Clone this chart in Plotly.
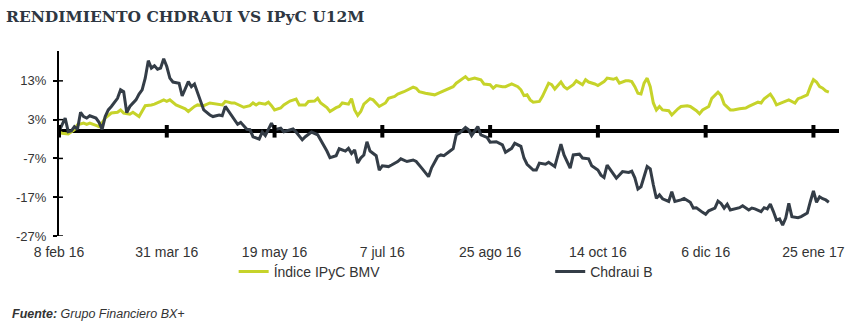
import plotly.graph_objects as go

title_text = "RENDIMIENTO CHDRAUI VS IPyC U12M"
source_text = "<b>Fuente:</b> Grupo Financiero BX+"

x_tick_days = [0, 35, 70, 105, 140, 175, 210, 245]
x_tick_labels = ["8 feb 16", "31 mar 16", "19 may 16", "7 jul 16",
                 "25 ago 16", "14 oct 16", "6 dic 16", "25 ene 17"]
y_tick_vals = [-27, -17, -7, 3, 13]
y_tick_labels = ["-27%", "-17%", "-7%", "3%", "13%"]

ipc_name = "Índice IPyC BMV"
ipc_day = [0, 1, 3, 5, 6, 8, 9, 10, 12, 13, 14, 15, 17, 19, 20, 21, 23, 24, 26, 27,
           28, 30, 31, 33, 34, 35, 36, 38, 40, 41, 42, 44, 45, 47, 49, 51, 53, 54, 56, 57,
           59, 60, 62, 63, 64, 65, 67, 68, 69, 70, 72, 73, 75, 77, 78, 80, 81, 83, 84, 85,
           87, 88, 90, 91, 92, 94, 95, 96, 97, 98, 99, 101, 102, 104, 106, 107, 109, 110, 112, 114,
           115, 116, 117, 119, 121, 122, 124, 126, 128, 129, 131, 132, 133, 135, 136, 137, 138, 140, 141, 142,
           144, 145, 147, 149, 150, 151, 152, 153, 154, 156, 157, 159, 160, 161, 163, 164, 165, 167, 168, 170,
           171, 172, 174, 175, 177, 178, 180, 181, 182, 184, 185, 186, 187, 188, 189, 190, 191, 192, 193, 194,
           195, 196, 198, 199, 201, 202, 204, 205, 207, 208, 209, 211, 212, 214, 215, 216, 218, 219, 221, 223,
           224, 226, 227, 228, 229, 231, 232, 233, 235, 236, 237, 239, 240, 241, 243, 244, 245, 246, 247, 248,
           249, 250]
ipc_ret = [-0.2, -0.5, -0.7, 0.4, 1.7, 2.1, 1.8, 2.1, 1.5, 1.2, 2.2, 3.4, 4.7, 4.9, 5.5, 4.7, 4.4, 4.9, 3.8, 5.3,
           6.6, 6.8, 7.0, 7.7, 8.1, 7.7, 8.1, 6.8, 6.2, 5.8, 5.1, 6.4, 6.8, 6.6, 7.3, 7.1, 6.8, 7.7, 7.3, 7.3,
           6.6, 6.2, 6.6, 7.3, 6.8, 7.3, 7.0, 7.5, 6.6, 5.5, 6.0, 6.8, 7.8, 8.3, 6.8, 6.8, 7.7, 7.8, 8.5, 7.3,
           6.1, 5.1, 6.1, 6.4, 7.3, 7.0, 8.4, 5.5, 4.1, 5.1, 7.0, 8.4, 8.1, 6.4, 7.3, 8.5, 9.0, 9.6, 10.2, 11.1,
           11.4, 11.1, 10.2, 9.8, 9.6, 9.4, 10.1, 10.7, 11.5, 12.4, 13.7, 14.1, 13.3, 13.7, 13.5, 13.3, 12.2, 12.0, 11.1, 11.8,
           11.5, 11.5, 12.2, 11.5, 10.7, 9.2, 9.4, 8.1, 7.5, 7.7, 9.0, 12.4, 12.0, 10.9, 12.7, 11.5, 10.9, 12.0, 13.0, 12.0,
           13.3, 12.7, 12.2, 11.8, 12.8, 13.7, 13.4, 13.7, 12.4, 13.0, 13.0, 12.8, 11.5, 9.8, 9.6, 12.4, 13.7, 11.5, 7.3, 5.5,
           6.4, 5.5, 5.3, 4.2, 5.8, 6.4, 6.6, 6.4, 5.3, 4.5, 5.5, 6.4, 8.5, 10.1, 9.2, 7.0, 5.5, 5.5, 5.8, 6.0,
           6.4, 7.0, 7.5, 7.3, 8.4, 9.6, 8.4, 6.8, 7.5, 7.8, 8.1, 7.3, 8.4, 8.7, 9.4, 11.5, 13.3, 12.7, 11.5, 11.1,
           10.4, 10.1]

chd_name = "Chdraui B"
chd_day = [0, 2, 3, 4, 5, 6, 7, 8, 9, 10, 12, 13, 14, 15, 16, 17, 19, 20, 21, 22,
           23, 25, 26, 27, 28, 29, 30, 31, 32, 33, 34, 35, 36, 37, 39, 40, 42, 43, 44, 45,
           47, 49, 50, 52, 53, 54, 56, 57, 58, 59, 61, 62, 63, 65, 66, 67, 69, 70, 72, 73,
           74, 76, 77, 79, 80, 82, 84, 85, 87, 88, 90, 91, 93, 94, 95, 96, 97, 98, 99, 100,
           101, 103, 104, 105, 107, 108, 110, 111, 113, 115, 116, 118, 120, 121, 123, 124, 125, 127, 128, 129,
           130, 132, 133, 134, 136, 137, 139, 140, 142, 144, 145, 147, 148, 150, 151, 152, 154, 155, 156, 158,
           159, 161, 163, 164, 166, 167, 169, 170, 172, 173, 175, 176, 177, 178, 180, 181, 183, 185, 186, 187,
           188, 189, 191, 192, 193, 194, 195, 196, 198, 199, 200, 202, 203, 205, 206, 207, 209, 210, 211, 213,
           214, 215, 216, 217, 218, 220, 221, 222, 224, 225, 226, 228, 229, 230, 231, 232, 233, 234, 235, 236,
           237, 238, 240, 241, 243, 244, 245, 246, 247, 248, 249, 250]
chd_ret = [0.0, 3.4, -0.1, 0.1, 1.2, 0.5, 4.9, 3.8, 3.4, 4.0, 3.4, 2.3, 0.5, 3.8, 5.5, 6.4, 8.5, 10.7, 10.2, 4.8,
           6.4, 8.1, 9.6, 10.7, 13.7, 18.2, 16.3, 16.9, 16.0, 16.3, 18.7, 16.7, 13.7, 12.7, 12.4, 9.1, 12.8, 11.5, 12.2, 9.8,
           5.5, 4.2, 3.8, 4.2, 4.0, 6.4, 4.2, 2.9, 1.8, 2.3, 0.5, 0.4, -1.4, -2.0, -0.2, -1.1, 2.1, 0.4, 0.8, -0.1,
           0.1, 0.6, -0.2, -2.2, -1.4, -0.2, -0.9, -2.2, -5.1, -6.8, -6.3, -4.5, -5.1, -4.4, -5.7, -4.8, -8.2, -6.9, -6.1, -2.7,
           -5.1, -6.3, -10.0, -8.9, -9.1, -8.7, -7.8, -7.1, -7.8, -7.4, -7.8, -9.7, -11.7, -9.4, -6.5, -6.1, -6.3, -5.1, -4.5, -0.9,
           -0.5, 1.0, 0.4, -1.1, 1.2, -0.9, -1.6, -2.8, -2.7, -3.5, -5.4, -4.4, -3.1, -3.9, -6.9, -8.5, -10.0, -10.0, -8.2, -8.5,
           -8.0, -9.1, -3.3, -6.1, -9.5, -6.1, -5.9, -6.9, -7.1, -8.9, -10.0, -11.3, -11.9, -8.7, -10.8, -12.1, -10.4, -10.6, -10.3, -12.0,
           -14.9, -14.3, -9.1, -9.7, -13.8, -17.3, -16.4, -17.4, -18.1, -15.6, -18.1, -17.7, -17.3, -18.3, -19.8, -19.7, -20.9, -21.4, -20.5, -19.8,
           -18.0, -18.6, -19.8, -18.8, -20.3, -20.0, -19.7, -19.2, -20.3, -19.8, -20.0, -20.7, -19.7, -20.0, -18.8, -20.7, -22.9, -22.6, -24.2, -22.4,
           -18.6, -22.0, -22.3, -22.0, -21.1, -18.1, -15.4, -18.3, -16.9, -17.4, -17.7, -18.3]

GREEN = "#c6d32a"
DARK = "#343d47"
TEXT = "#333333"

W, H = 857, 328
ML, MR, MT, MB = 59, 12, 51, 92
PW = W - ML - MR
PH = H - MT - MB

fig = go.Figure()
fig.add_trace(go.Scatter(x=ipc_day, y=ipc_ret, mode="lines", name=ipc_name,
                         line=dict(color=GREEN, width=3), legend="legend"))
fig.add_trace(go.Scatter(x=chd_day, y=chd_ret, mode="lines", name=chd_name,
                         line=dict(color=DARK, width=3), legend="legend2"))
# tick marks drawn on the zero (category) axis line
fig.add_trace(go.Scatter(x=x_tick_days, y=[0] * len(x_tick_days), mode="markers",
                         showlegend=False, hoverinfo="skip",
                         marker=dict(symbol="line-ns", size=9, color="black",
                                     line=dict(color="black", width=4))))

# inner half of the crossing y ticks
for v in y_tick_vals:
    fig.add_shape(type="line", xref="paper", yref="y", x0=0, x1=4 / PW, y0=v, y1=v,
                  line=dict(color="black", width=1.5))

legend_y = (PH - (272 - MT)) / PH
legend_common = dict(orientation="h", xanchor="left", y=legend_y, yanchor="middle",
                     font=dict(size=14, color=TEXT), bgcolor="rgba(0,0,0,0)")

fig.update_layout(
    width=W, height=H,
    margin=dict(l=ML, r=MR, t=MT, b=MB),
    paper_bgcolor="white", plot_bgcolor="white",
    font=dict(family="Liberation Sans, Arial, sans-serif", color=TEXT),
    title=dict(text="<b>" + title_text + "</b>", xref="container", yref="container",
               x=6 / W, xanchor="left", y=1 - 17 / H, yanchor="middle",
               font=dict(family="DejaVu Serif, serif", size=15.5, color="#2e3742")),
    showlegend=True,
    legend=dict(x=(235 - ML) / PW, **legend_common),
    legend2=dict(x=(554 - ML) / PW, **legend_common),
    xaxis=dict(range=[0, 253.3], showline=False, showgrid=False, zeroline=False,
               ticks="", tickvals=x_tick_days, ticktext=x_tick_labels,
               tickfont=dict(size=14, color=TEXT), ticklabelstandoff=6),
    yaxis=dict(range=[-27, 20.7], showline=True, linecolor="black", linewidth=2,
               showgrid=False, zeroline=True, zerolinecolor="black", zerolinewidth=4,
               ticks="outside", ticklen=4, tickwidth=1.5, tickcolor="black",
               tickvals=y_tick_vals, ticktext=y_tick_labels, ticklabelstandoff=4,
               tickfont=dict(size=13, color=TEXT), layer="above traces"),
    annotations=[dict(text=source_text, xref="paper", yref="paper",
                      x=(10 - ML) / PW, xanchor="left",
                      y=(PH - (314 - MT)) / PH, yanchor="middle", showarrow=False,
                      font=dict(size=12.5, color=TEXT,
                                family="Liberation Sans, Arial, sans-serif", style="italic"))],
)

fig.write_html("out.html")
